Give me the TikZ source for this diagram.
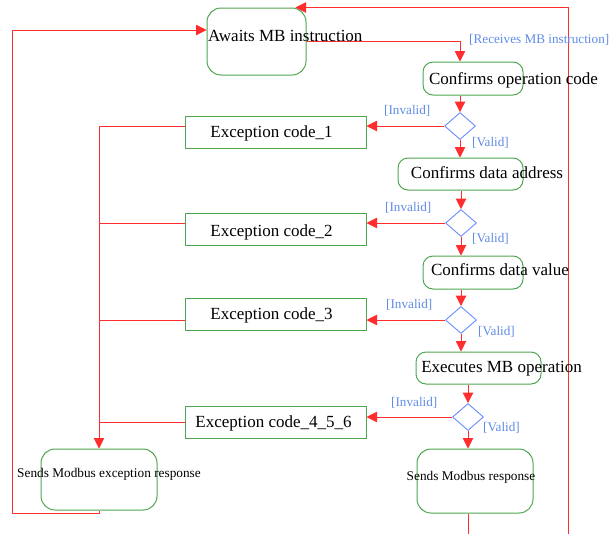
\documentclass[tikz,border=0pt]{standalone}
\usepackage{fontspec}
\setmainfont{Liberation Serif}
\usetikzlibrary{shapes.geometric,arrows.meta}
\definecolor{flowred}{RGB}{255,45,45}
\definecolor{boxgreen}{RGB}{80,165,80}
\definecolor{guardblue}{RGB}{95,140,230}
\definecolor{diablue}{RGB}{105,140,255}
\tikzset{
  act/.style={draw=boxgreen, line width=1pt, rounded corners=10pt, inner sep=0pt},
  exc/.style={draw=boxgreen, line width=1pt, minimum width=181pt, minimum height=32pt, inner sep=0pt},
  dec/.style={diamond, draw=diablue, line width=0.9pt, minimum width=31pt, minimum height=27pt, inner sep=0pt},
  txt/.style={font=\fontsize{17}{20}\selectfont, inner sep=0pt},
  stxt/.style={font=\fontsize{13.3}{16}\selectfont, inner sep=0pt},
  guard/.style={font=\fontsize{13.2}{16}\selectfont, text=guardblue, inner sep=0pt, anchor=west},
  flow/.style={draw=flowred, line width=0.9pt, -{Triangle[length=10.5pt,width=10.5pt]}},
  wire/.style={draw=flowred, line width=0.9pt}
}

\begin{document}
\begin{tikzpicture}[x=1pt,y=-1pt]
\clip (0,0) rectangle (609,533);
% activities
\node[act, minimum width=99pt, minimum height=67pt, rounded corners=14pt] (await) at (256.5,41.5) {};
\node[act, minimum width=100pt, minimum height=33pt] (cop) at (473,78.5) {};
\node[act, minimum width=125pt, minimum height=32pt] (cad) at (460.5,174) {};
\node[act, minimum width=100pt, minimum height=33pt] (cval) at (473,272.5) {};
\node[act, minimum width=125pt, minimum height=32pt] (exe) at (478.5,368) {};
\node[act, minimum width=116pt, minimum height=64pt, rounded corners=14pt] (resp) at (475,481) {};
\node[act, minimum width=116pt, minimum height=61pt, rounded corners=14pt] (exres) at (99,479.5) {};
% decisions
\node[dec] (d1) at (460,126) {};
\node[dec] (d2) at (461,223) {};
\node[dec] (d3) at (461,320) {};
\node[dec] (d4) at (468,417) {};
% exception codes
\node[exc] (exc1) at (275.5,132) {};
\node[exc] (exc2) at (275.5,229) {};
\node[exc] (exc3) at (275.5,314.5) {};
\node[exc] (exc4) at (275.5,422) {};

% main flow
\draw[flow] (await.east) -| (d1 |- cop.north);
\draw[flow] (d1 |- cop.south) -- (d1.north);
\draw[flow] (d1.south) -- (d1 |- cad.north);
\draw[flow] (d2 |- cad.south) -- (d2.north);
\draw[flow] (d2.south) -- (d2 |- cval.north);
\draw[flow] (d3 |- cval.south) -- (d3.north);
\draw[flow] (d3.south) -- (d3 |- exe.north);
\draw[flow] (d4 |- exe.south) -- (d4.north);
\draw[flow] (d4.south) -- (d4 |- resp.north);
% invalid branches
\draw[flow] (d1.west) -- (d1 -| exc1.east);
\draw[flow] (d2.west) -- (d2 -| exc2.east);
\draw[flow] (d3.west) -- (d3 -| exc3.east);
\draw[flow] (d4.west) -- (d4 -| exc4.east);
\draw[flow] (exc1.west |- d1) -| (exres.north);
\draw[wire] (exc2.west |- d2) -- (exres |- d2);
\draw[wire] (exc3.west |- d3) -- (exres |- d3);
\draw[wire] (exc4.west) -- (exres |- exc4.west);
% loops back
\coordinate (lowl) at (12,513);
\coordinate (lowr) at (568,545);
\draw[flow] (exres.south) |- (lowl) |- (await.west |- 0,30);
\draw[flow] (d4 |- resp.south) |- (lowr) |- ([xshift=-11pt]await.north east);

% texts
\node[txt, anchor=west] (await-t) at (208,36) {Awaits MB instruction};
\node[txt] (cop-t) at (513.5,80) {Confirms operation code};
\node[txt] (cad-t) at (487,173) {Confirms data address};
\node[txt] (cval-t) at (500,270) {Confirms data value};
\node[txt] (exe-t) at (501.5,369) {Executes MB operation};
\node[stxt] (resp-t) at (471,477) {Sends Modbus response};
\node[stxt] (exres-t) at (109,474) {Sends Modbus exception response};
\node[txt] (exc1-t) at (271.5,133) {Exception code\_1};
\node[txt] (exc2-t) at (271.5,232) {Exception code\_2};
\node[txt] (exc3-t) at (271.5,315) {Exception code\_3};
\node[txt] (exc4-t) at (273.5,423) {Exception code\_4\_5\_6};
% guards
\node[guard] (g0) at (469,40) {[Receives MB instruction]};
\node[guard] (g1i) at (384,111) {[Invalid]};
\node[guard] (g1v) at (472,143) {[Valid]};
\node[guard] (g2i) at (385,208) {[Invalid]};
\node[guard] (g2v) at (472,239) {[Valid]};
\node[guard] (g3i) at (386,305) {[Invalid]};
\node[guard] (g3v) at (478,332) {[Valid]};
\node[guard] (g4i) at (391,403) {[Invalid]};
\node[guard] (g4v) at (483,428) {[Valid]};
\end{tikzpicture}
\end{document}
